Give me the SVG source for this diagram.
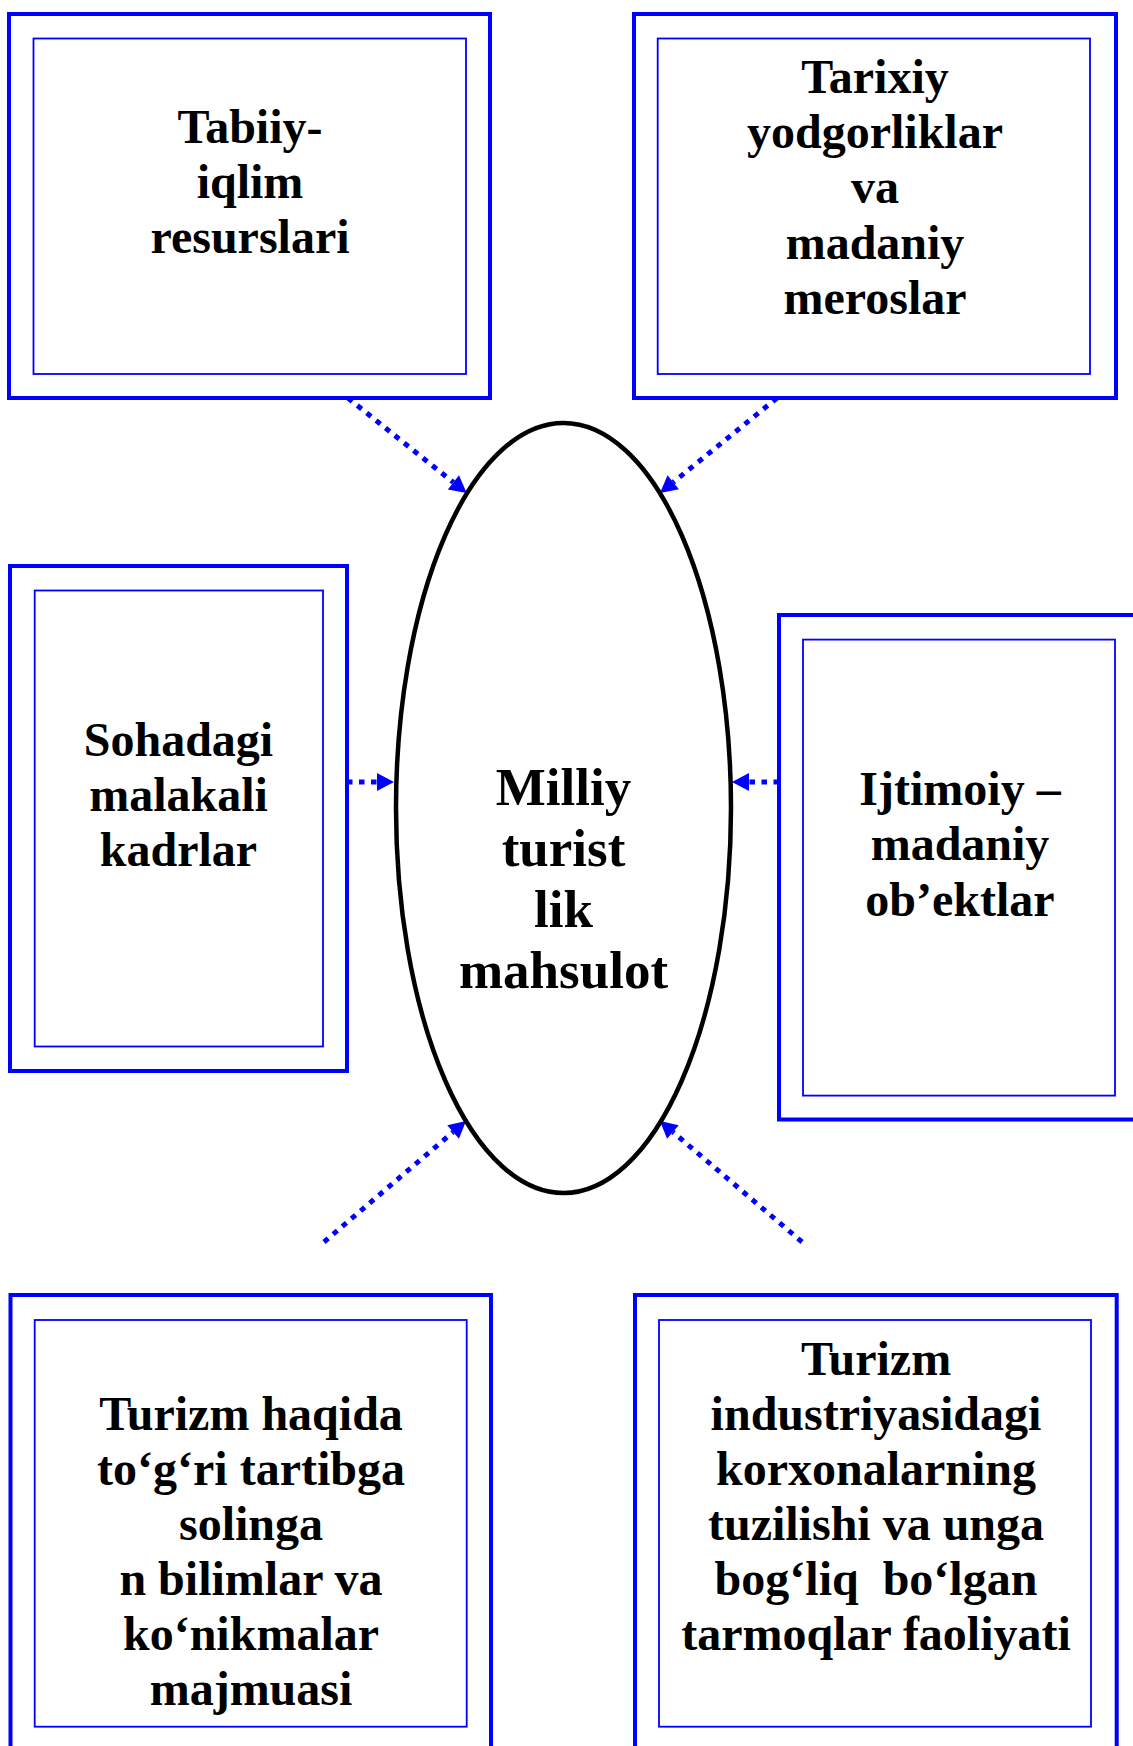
<svg xmlns="http://www.w3.org/2000/svg" width="1133" height="1746" viewBox="0 0 1133 1746">
  <style>
    .outer { fill: none; stroke: #0000ff; stroke-width: 4; }
    .inner { fill: none; stroke: #0000ff; stroke-width: 1.8; }
    .lbl { font-family: "Liberation Serif", "Times New Roman", serif; font-weight: bold; font-size: 48px; fill: #000; text-anchor: middle; white-space: pre; }
    .core { font-size: 53px; }
    .link { fill: none; stroke: #0000ff; stroke-width: 5; stroke-dasharray: 5.5 6.5; }
  </style>
  <defs>
    <marker id="head" markerUnits="userSpaceOnUse" markerWidth="20" markerHeight="20" refX="0" refY="0" viewBox="0 -10 18 20" orient="auto" overflow="visible">
      <path d="M0,-9 L17,0 L0,9 z" fill="#0000ff"/>
    </marker>
  </defs>

  <rect width="1133" height="1746" fill="#fff"/>

  <!-- connectors -->
  <g id="connectors">
    <path class="link" d="M348,398 L453.4,482.4" marker-end="url(#head)"/>
    <path class="link" d="M777,398 L673.2,482.3" marker-end="url(#head)"/>
    <path class="link" d="M347,782 L377,782" marker-end="url(#head)"/>
    <path class="link" d="M779,782 L749,782" marker-end="url(#head)"/>
    <path class="link" d="M324,1242 L453.1,1132" marker-end="url(#head)"/>
    <path class="link" d="M802,1242 L672.9,1132" marker-end="url(#head)"/>
  </g>

  <!-- central product -->
  <g id="core">
    <ellipse cx="563.5" cy="808" rx="167.5" ry="385" fill="none" stroke="#000" stroke-width="4.5"/>
    <text class="lbl core" x="563.5" y="805">Milliy</text>
    <text class="lbl core" x="563.5" y="866">turist</text>
    <text class="lbl core" x="563.5" y="927">lik</text>
    <text class="lbl core" x="563.5" y="988">mahsulot</text>
  </g>

  <g id="natural">
    <rect class="outer" x="9" y="14" width="481" height="384"/>
    <rect class="inner" x="33.5" y="38.5" width="432.5" height="335.5"/>
    <text class="lbl" x="250" y="143">Tabiiy-</text>
    <text class="lbl" x="250" y="198">iqlim</text>
    <text class="lbl" x="250" y="253">resurslari</text>
  </g>

  <g id="heritage">
    <rect class="outer" x="634" y="14" width="482" height="384"/>
    <rect class="inner" x="657.7" y="38.5" width="432.3" height="335.5"/>
    <text class="lbl" x="875" y="93">Tarixiy</text>
    <text class="lbl" x="875" y="148">yodgorliklar</text>
    <text class="lbl" x="875" y="203">va</text>
    <text class="lbl" x="875" y="259">madaniy</text>
    <text class="lbl" x="875" y="314">meroslar</text>
  </g>

  <g id="staff">
    <rect class="outer" x="10" y="566" width="337" height="505"/>
    <rect class="inner" x="34.7" y="590.5" width="288.3" height="456"/>
    <text class="lbl" x="178.5" y="756">Sohadagi</text>
    <text class="lbl" x="178.5" y="811">malakali</text>
    <text class="lbl" x="178.5" y="866">kadrlar</text>
  </g>

  <g id="social">
    <rect class="outer" x="779" y="615" width="361" height="504.5"/>
    <rect class="inner" x="803" y="639.6" width="312" height="456"/>
    <text class="lbl" x="960" y="805">Ijtimoiy –</text>
    <text class="lbl" x="960" y="860">madaniy</text>
    <text class="lbl" x="960" y="916">ob’ektlar</text>
  </g>

  <g id="knowledge">
    <rect class="outer" x="10.5" y="1295" width="480.5" height="456"/>
    <rect class="inner" x="34.7" y="1320" width="432" height="406.7"/>
    <text class="lbl" x="251" y="1430">Turizm haqida</text>
    <text class="lbl" x="251" y="1485">to‘g‘ri tartibga</text>
    <text class="lbl" x="251" y="1540">solinga</text>
    <text class="lbl" x="251" y="1595">n bilimlar va</text>
    <text class="lbl" x="251" y="1650">ko‘nikmalar</text>
    <text class="lbl" x="251" y="1705">majmuasi</text>
  </g>

  <g id="industry">
    <rect class="outer" x="635" y="1295" width="481.7" height="456"/>
    <rect class="inner" x="659" y="1320" width="432" height="406.7"/>
    <text class="lbl" x="876" y="1375">Turizm</text>
    <text class="lbl" x="876" y="1430">industriyasidagi</text>
    <text class="lbl" x="876" y="1485">korxonalarning</text>
    <text class="lbl" x="876" y="1540">tuzilishi va unga</text>
    <text class="lbl" x="876" y="1595">bog‘liq  bo‘lgan</text>
    <text class="lbl" x="876" y="1650">tarmoqlar faoliyati</text>
  </g>
</svg>
